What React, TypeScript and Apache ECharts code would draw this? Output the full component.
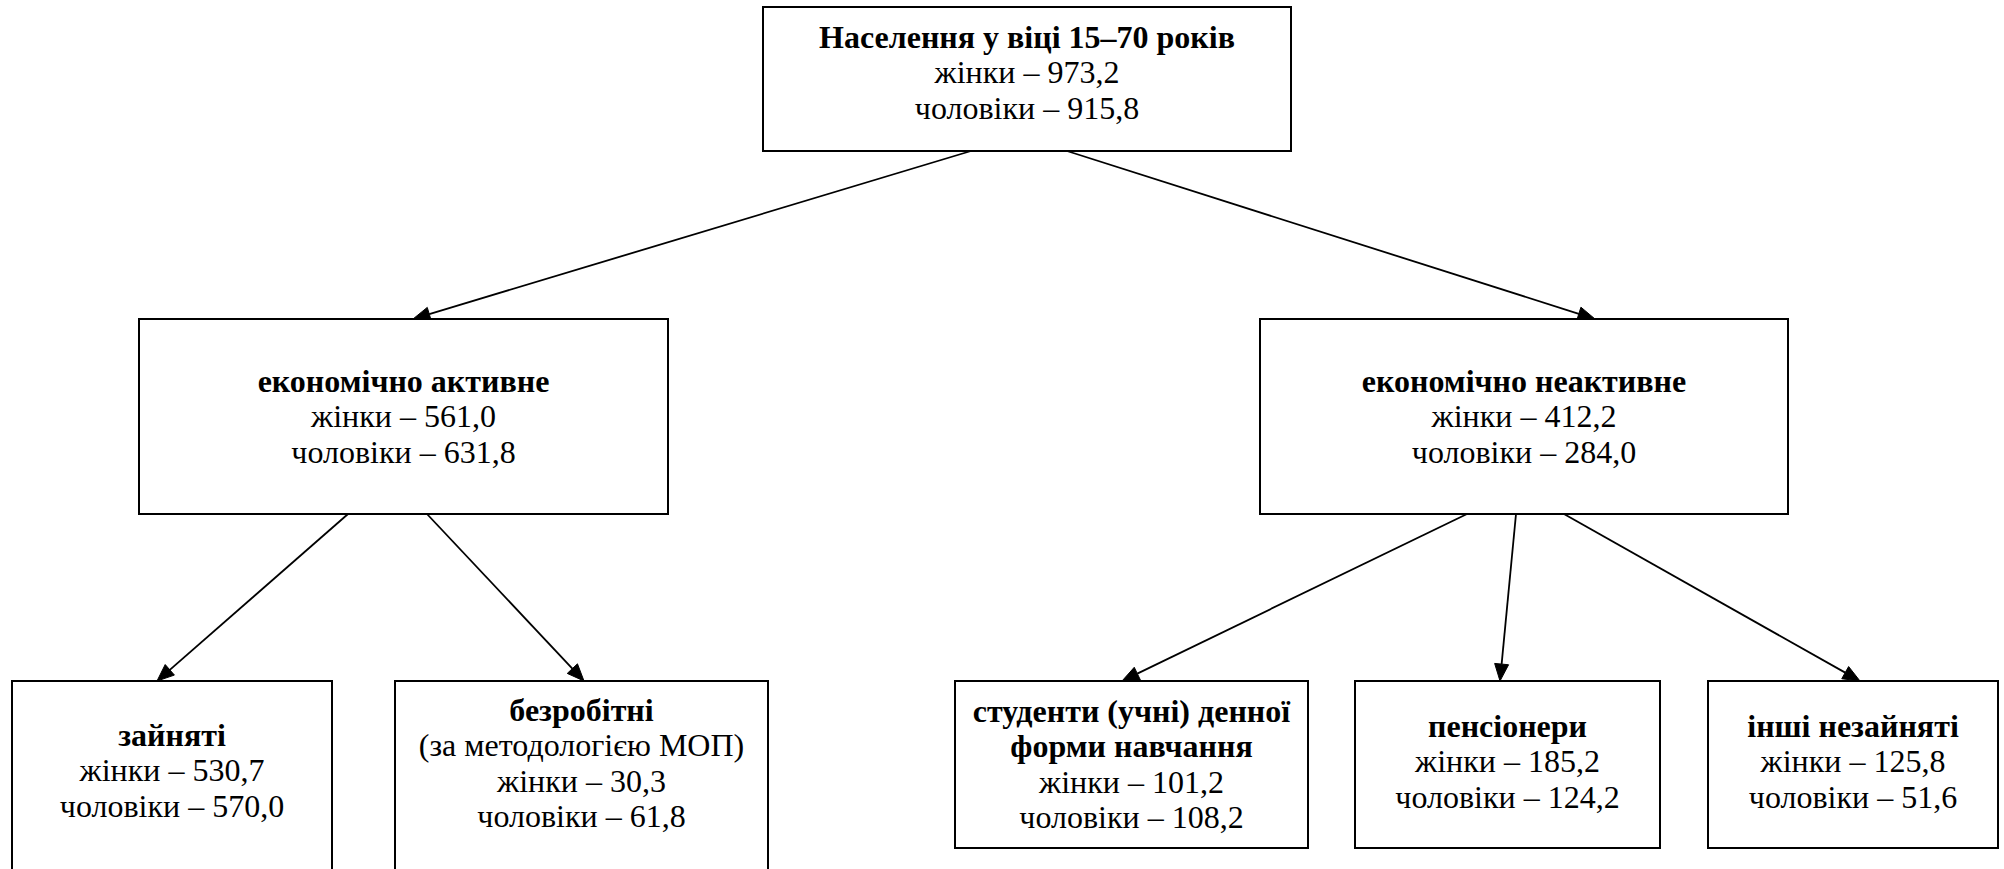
import React, { useEffect, useRef } from "react";
import * as echarts from "echarts";

// ---- data ----
const nodeTitles: string[][] = [
  ["Населення у віці 15–70 років"],
  ["економічно активне"],
  ["економічно неактивне"],
  ["зайняті"],
  ["безробітні"],
  ["студенти (учні) денної", "форми навчання"],
  ["пенсіонери"],
  ["інші незайняті"],
];
const nodeNotes: string[] = ["", "", "", "", "(за методологією МОП)", "", "", ""];
const women: number[] = [973.2, 561.0, 412.2, 530.7, 30.3, 101.2, 185.2, 125.8];
const men: number[] = [915.8, 631.8, 284.0, 570.0, 61.8, 108.2, 124.2, 51.6];
const parents: number[] = [-1, 0, 0, 1, 1, 2, 2, 2];
const womenLabel = "жінки";
const menLabel = "чоловіки";

// ---- layout (diagram geometry, in page pixels) ----
// [x0, y0, x1, y1, textCenterY]
const boxLayout: number[][] = [
  [763, 7, 1291, 151, 72],
  [139, 319, 668, 514, 416],
  [1260, 319, 1788, 514, 416],
  [12, 681, 332, 900, 770],
  [395, 681, 768, 900, 763],
  [955, 681, 1308, 848, 764],
  [1355, 681, 1660, 848, 761],
  [1708, 681, 1998, 848, 761],
];
// arrow for node i (from its parent): [fromX, fromY, toX, toY]
const arrowLayout: number[][] = [
  [0, 0, 0, 0],
  [971, 151, 413, 319],
  [1067, 151, 1595, 319],
  [348, 514, 157, 681],
  [427, 514, 584, 681],
  [1467, 514, 1122, 681],
  [1516, 514, 1500, 681],
  [1564, 514, 1860, 681],
];

const W = 2004;
const H = 869;
const FAMILY = "Liberation Serif";
const FS = 32;
const LINE_H = 35.5;

const fmt = (v: number) => v.toFixed(1).replace(".", ",");

export default function App() {
  const ref = useRef<HTMLDivElement>(null);

  useEffect(() => {
    if (!ref.current) return;
    const chart = echarts.init(ref.current, undefined, { renderer: "svg" });

    const nodeData = women.map((w, i) => [i, w, men[i]]);
    const edgeData = parents
      .map((p, i) => [i, p])
      .filter((d) => d[1] >= 0);

    chart.setOption({
      animation: false,
      backgroundColor: "#ffffff",
      grid: { left: 0, right: 0, top: 0, bottom: 0 },
      xAxis: { type: "value", min: 0, max: W, show: false },
      yAxis: { type: "value", min: 0, max: H, inverse: true, show: false },
      series: [
        {
          type: "custom",
          name: "arrows",
          coordinateSystem: "cartesian2d",
          data: edgeData,
          encode: { x: -1, y: -1 } as any,
          renderItem: (params: any, api: any) => {
            const idx = api.value(0);
            const a = arrowLayout[idx];
            const p0 = api.coord([a[0], a[1]]);
            const p1 = api.coord([a[2], a[3]]);
            const dx = p1[0] - p0[0];
            const dy = p1[1] - p0[1];
            const len = Math.sqrt(dx * dx + dy * dy);
            const ux = dx / len;
            const uy = dy / len;
            const headL = 17;
            const headW = 7;
            const bx = p1[0] - ux * headL;
            const by = p1[1] - uy * headL;
            return {
              type: "group",
              children: [
                {
                  type: "line",
                  shape: { x1: p0[0], y1: p0[1], x2: bx, y2: by },
                  style: { stroke: "#000", lineWidth: 1.8 },
                },
                {
                  type: "polygon",
                  shape: {
                    points: [
                      [p1[0], p1[1]],
                      [bx - uy * headW, by + ux * headW],
                      [bx + uy * headW, by - ux * headW],
                    ],
                  },
                  style: { fill: "#000", stroke: "#000", lineWidth: 1 },
                },
              ],
            };
          },
        },
        {
          type: "custom",
          name: "boxes",
          coordinateSystem: "cartesian2d",
          data: nodeData,
          encode: { x: -1, y: -1 } as any,
          renderItem: (params: any, api: any) => {
            const idx = api.value(0);
            const b = boxLayout[idx];
            const tl = api.coord([b[0], b[1]]);
            const br = api.coord([b[2], b[3]]);
            return {
              type: "rect",
              shape: { x: tl[0], y: tl[1], width: br[0] - tl[0], height: br[1] - tl[1] },
              style: { fill: "#ffffff", stroke: "#000", lineWidth: 2 },
            };
          },
        },
      ],
    });

    // texts of each box, positioned through the grid's scales
    const texts: any[] = [];
    women.forEach((w, idx) => {
      const b = boxLayout[idx];
      const c = chart.convertToPixel({ gridIndex: 0 }, [(b[0] + b[2]) / 2, b[4]]) as number[];
      const lines: { t: string; bold: boolean }[] = [];
      nodeTitles[idx].forEach((t) => lines.push({ t, bold: true }));
      if (nodeNotes[idx]) lines.push({ t: nodeNotes[idx], bold: false });
      lines.push({ t: womenLabel + " – " + fmt(w), bold: false });
      lines.push({ t: menLabel + " – " + fmt(men[idx]), bold: false });
      const n = lines.length;
      lines.forEach((ln, k) => {
        texts.push({
          type: "text",
          x: c[0],
          y: c[1] + (k - (n - 1) / 2) * LINE_H,
          z: 100,
          style: {
            text: ln.t,
            align: "center",
            verticalAlign: "middle",
            fill: "#000",
            fontFamily: FAMILY,
            fontSize: FS,
            fontWeight: ln.bold ? "bold" : "normal",
          },
        });
      });
    });
    chart.setOption({ graphic: texts });

    return () => chart.dispose();
  }, []);

  return (
    <div
      ref={ref}
      style={{ position: "absolute", left: 0, top: 0, width: W, height: H, background: "#fff" }}
    />
  );
}
